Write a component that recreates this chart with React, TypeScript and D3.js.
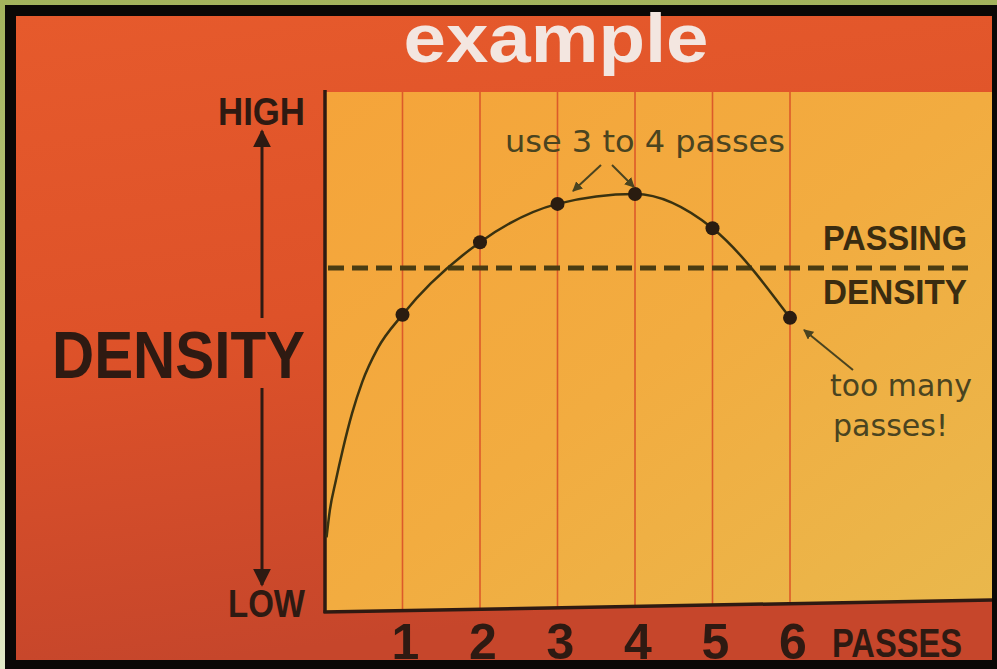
import React from "react";
import * as d3 from "d3";

// Values (density on a 0-100 "low" to "high" scale)
const passes = [1, 2, 3, 4, 5, 6];
const density = [57, 71, 78.4, 80.3, 73.7, 56.4];
// Traced curve, including where it leaves the axis near zero passes
const curvePasses = [0.02, 0.06, 0.14, 0.23, 0.35, 0.48, 0.68, 1, 2, 3, 4, 5, 6];
const curveDensity = [14, 19, 25, 31, 38, 44, 50.5, 57, 71, 78.4, 80.3, 73.7, 56.4];
const passingDensity = 66;
const xTickLabels = ["1", "2", "3", "4", "5", "6"];

const W = 997;
const H = 669;
const ink = "#2e1a12";
const pen = "#4a4420";

const App = () => {
  const x = d3.scaleLinear().domain([0, 6]).range([325, 790]);
  const y = d3.scaleLinear().domain([0, 100]).range([610, 92]);

  const plotLeft = x(0);
  const plotRight = 992;
  const plotTop = y(100);
  // photo is slightly skewed: bottom edge rises toward the right
  const bottomAt = d3.scaleLinear().domain([plotLeft, plotRight]).range([612, 600]);

  const line = d3
    .line<number>()
    .x((d) => x(d))
    .y((d, i) => y(curveDensity[i]))
    .curve(d3.curveMonotoneX);

  const font = "'Liberation Sans', Arial, Helvetica, sans-serif";
  const hand = "'DejaVu Sans', sans-serif";

  return (
    <svg
      width={W}
      height={H}
      style={{ position: "fixed", left: 0, top: 0, display: "block" }}
    >
      <defs>
        <linearGradient id="green" x1="0" y1="0" x2="0" y2="1">
          <stop offset="0" stopColor="#a3b35c" />
          <stop offset="0.6" stopColor="#c2cf8a" />
          <stop offset="1" stopColor="#e2eac8" />
        </linearGradient>
        <linearGradient id="red" x1="0" y1="0" x2="0.2" y2="1">
          <stop offset="0" stopColor="#e65a2c" />
          <stop offset="0.5" stopColor="#de5229" />
          <stop offset="1" stopColor="#c6462b" />
        </linearGradient>
        <linearGradient id="yellow" x1="0" y1="0" x2="1" y2="1">
          <stop offset="0" stopColor="#f5a43a" />
          <stop offset="0.5" stopColor="#f2ac40" />
          <stop offset="1" stopColor="#e9b84c" />
        </linearGradient>
        <marker id="head" viewBox="0 0 10 10" refX="9" refY="5" markerWidth="6" markerHeight="6" orient="auto">
          <path d="M0,0 L10,5 L0,10 Z" fill={ink} />
        </marker>
        <marker id="penhead" viewBox="0 0 10 10" refX="9" refY="5" markerWidth="5" markerHeight="5" orient="auto">
          <path d="M0,0 L10,5 L0,10 Z" fill={pen} />
        </marker>
      </defs>

      {/* frame */}
      <rect x={0} y={0} width={W} height={H} fill="url(#green)" />
      <rect x={5} y={5} width={W - 5} height={H - 5} fill="#0a0806" />
      <rect x={16} y={16} width={plotRight - 16} height={644} fill="url(#red)" />

      {/* title */}
      <text
        x={556}
        y={62}
        textAnchor="middle"
        fontFamily={font}
        fontWeight="bold"
        fontSize={68}
        fill="#f3e6e0"
        textLength={305}
        lengthAdjust="spacingAndGlyphs"
      >
        example
      </text>

      {/* plot area */}
      <polygon
        points={`${plotLeft},${plotTop} ${plotRight},${plotTop} ${plotRight},${bottomAt(plotRight)} ${plotLeft},${bottomAt(plotLeft)}`}
        fill="url(#yellow)"
      />
      {passes.map((p) => (
        <line
          key={p}
          x1={x(p)}
          x2={x(p)}
          y1={plotTop}
          y2={bottomAt(x(p))}
          stroke="#dc5a2a"
          strokeWidth={1.6}
        />
      ))}

      {/* axes */}
      <line x1={plotLeft} x2={plotLeft} y1={plotTop - 2} y2={bottomAt(plotLeft) + 1} stroke={ink} strokeWidth={3.5} />
      <line
        x1={plotLeft - 1.5}
        x2={plotRight}
        y1={bottomAt(plotLeft)}
        y2={bottomAt(plotRight)}
        stroke={ink}
        strokeWidth={3.5}
      />

      {/* passing density */}
      <line
        x1={plotLeft + 3}
        x2={968}
        y1={y(passingDensity)}
        y2={y(passingDensity)}
        stroke="#4a3c12"
        strokeWidth={5}
        strokeDasharray="16 8"
      />
      <text x={967} y={250} textAnchor="end" fontFamily={font} fontWeight="bold" fontSize={35} fill="#3a2c10" textLength={144} lengthAdjust="spacingAndGlyphs">
        PASSING
      </text>
      <text x={967} y={304} textAnchor="end" fontFamily={font} fontWeight="bold" fontSize={35} fill="#3a2c10" textLength={144} lengthAdjust="spacingAndGlyphs">
        DENSITY
      </text>

      {/* curve and points */}
      <path d={line(curvePasses) ?? ""} fill="none" stroke="#3a3210" strokeWidth={2.5} />
      {passes.map((p, i) => (
        <circle key={p} cx={x(p)} cy={y(density[i])} r={7} fill="#2a1c10" />
      ))}

      {/* annotations */}
      <text x={505} y={152} fontFamily={hand} fontSize={31} fill={pen} textLength={280} lengthAdjust="spacingAndGlyphs">
        use 3 to 4 passes
      </text>
      <line x1={601} y1={165} x2={573} y2={191} stroke={pen} strokeWidth={2} markerEnd="url(#penhead)" />
      <line x1={612} y1={165} x2={634} y2={187} stroke={pen} strokeWidth={2} markerEnd="url(#penhead)" />

      <text x={830} y={396} fontFamily={hand} fontSize={31} fill={pen} textLength={142} lengthAdjust="spacingAndGlyphs">
        too many
      </text>
      <text x={833} y={436} fontFamily={hand} fontSize={31} fill={pen} textLength={115} lengthAdjust="spacingAndGlyphs">
        passes!
      </text>
      <line x1={853} y1={370} x2={804} y2={330} stroke={pen} strokeWidth={2} markerEnd="url(#penhead)" />

      {/* y axis label */}
      <text x={305} y={125} textAnchor="end" fontFamily={font} fontWeight="bold" fontSize={38} fill={ink} textLength={87} lengthAdjust="spacingAndGlyphs">
        HIGH
      </text>
      <text x={305} y={617} textAnchor="end" fontFamily={font} fontWeight="bold" fontSize={38} fill={ink} textLength={77} lengthAdjust="spacingAndGlyphs">
        LOW
      </text>
      <text x={52} y={378} fontFamily={font} fontWeight="bold" fontSize={66} fill={ink} textLength={253} lengthAdjust="spacingAndGlyphs">
        DENSITY
      </text>
      <line x1={262} x2={262} y1={318} y2={131} stroke={ink} strokeWidth={3} markerEnd="url(#head)" />
      <line x1={262} x2={262} y1={388} y2={585} stroke={ink} strokeWidth={3} markerEnd="url(#head)" />

      {/* bottom black band */}
      <rect x={5} y={660} width={W - 5} height={H - 660} fill="#0a0806" />
      <rect x={plotRight} y={5} width={W - plotRight} height={H - 5} fill="#0a0806" />

      {/* x axis labels */}
      {passes.map((p, i) => (
        <text
          key={p}
          x={x(p) + 3}
          y={659}
          textAnchor="middle"
          fontFamily={font}
          fontWeight="bold"
          fontSize={50}
          fill={ink}
        >
          {xTickLabels[i]}
        </text>
      ))}
      <text x={962} y={657} textAnchor="end" fontFamily={font} fontWeight="bold" fontSize={40} fill={ink} textLength={130} lengthAdjust="spacingAndGlyphs">
        PASSES
      </text>
    </svg>
  );
};

export default App;
